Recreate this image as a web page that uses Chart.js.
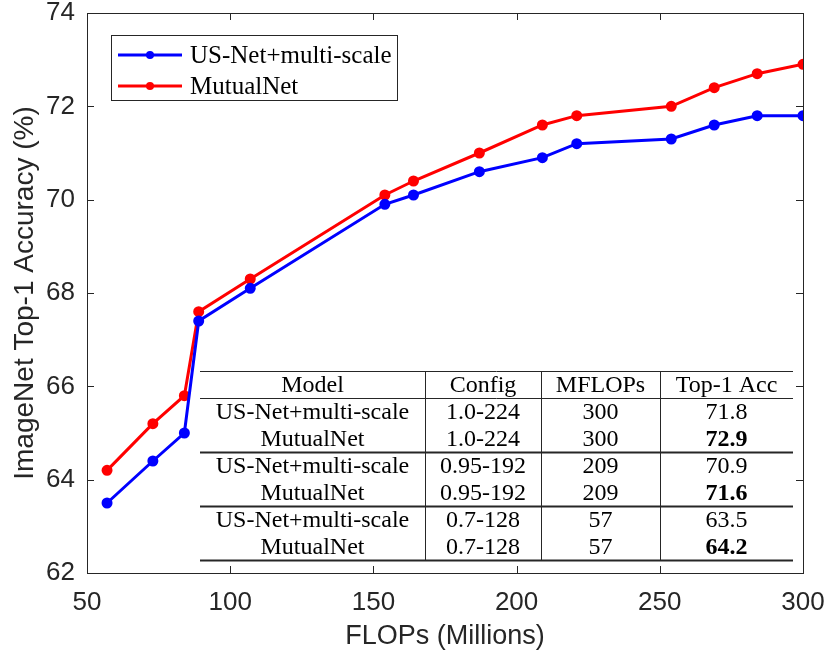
<!DOCTYPE html>
<html>
<head>
<meta charset="utf-8">
<script src="https://cdn.jsdelivr.net/npm/chart.js@4"></script>
<style>
  html, body { margin: 0; padding: 0; background: #fff; }
  canvas { display: block; }
</style>
</head>
<body>
<canvas id="accuracyChart" width="827" height="656"></canvas>
<script>
// FLOPs (millions) measured for each width/resolution config
const flops = [57, 73, 84, 89, 107, 154, 164, 187, 209, 221, 254, 269, 284, 300];
const usNetAcc = [63.5, 64.4, 65.0, 67.4, 68.1, 69.9, 70.1, 70.6, 70.9, 71.2, 71.3, 71.6, 71.8, 71.8];
const mutualNetAcc = [64.2, 65.2, 65.8, 67.6, 68.3, 70.1, 70.4, 71.0, 71.6, 71.8, 72.0, 72.4, 72.7, 72.9];

// inset table
const tableHeader = ['Model', 'Config', 'MFLOPs', 'Top-1 Acc'];
const tableModels = ['US-Net+multi-scale', 'MutualNet', 'US-Net+multi-scale', 'MutualNet', 'US-Net+multi-scale', 'MutualNet'];
const tableConfigs = ['1.0-224', '1.0-224', '0.95-192', '0.95-192', '0.7-128', '0.7-128'];
const tableFlops = ['300', '300', '209', '209', '57', '57'];
const tableAcc = ['71.8', '72.9', '70.9', '71.6', '63.5', '64.2'];
const tableBold = [false, true, false, true, false, true];

const axisColor = '#262626';
const sansFont = "'Liberation Sans', Arial, sans-serif";
const serifFont = "'Liberation Serif', 'Times New Roman', serif";

const makeSeries = (values) => flops.map((f, i) => ({ x: f, y: values[i] }));

// box around the axes with inward ticks on all four sides (MATLAB style)
const frameTicks = {
    id: 'frameTicks',
    afterDraw(chart) {
        const { ctx, chartArea: area, scales } = chart;
        const len = 7;
        ctx.save();
        ctx.strokeStyle = axisColor;
        ctx.lineWidth = 1;
        ctx.strokeRect(area.left + 0.5, area.top + 0.5, area.right - area.left, area.bottom - area.top);
        ctx.beginPath();
        scales.x.ticks.forEach(t => {
            const px = Math.round(scales.x.getPixelForValue(t.value)) + 0.5;
            ctx.moveTo(px, area.bottom); ctx.lineTo(px, area.bottom - len);
            ctx.moveTo(px, area.top); ctx.lineTo(px, area.top + len);
        });
        scales.y.ticks.forEach(t => {
            const py = Math.round(scales.y.getPixelForValue(t.value)) + 0.5;
            ctx.moveTo(area.left, py); ctx.lineTo(area.left + len, py);
            ctx.moveTo(area.right, py); ctx.lineTo(area.right - len, py);
        });
        ctx.stroke();
        ctx.restore();
    }
};

const boxLegend = {
    id: 'boxLegend',
    afterDraw(chart) {
        const { ctx, chartArea: area } = chart;
        const x0 = area.left + 24, y0 = 35, w = 286, h = 65;
        ctx.save();
        ctx.fillStyle = '#fff';
        ctx.fillRect(x0, y0, w, h);
        ctx.strokeStyle = axisColor;
        ctx.lineWidth = 1;
        ctx.strokeRect(x0 + 0.5, y0 + 0.5, w, h);
        chart.data.datasets.forEach((ds, i) => {
            const y = 55 + i * 31;
            ctx.strokeStyle = ds.borderColor;
            ctx.lineWidth = 3;
            ctx.beginPath();
            ctx.moveTo(x0 + 7, y); ctx.lineTo(x0 + 71, y);
            ctx.stroke();
            ctx.fillStyle = ds.borderColor;
            ctx.beginPath();
            ctx.arc(x0 + 39, y, 4, 0, Math.PI * 2);
            ctx.fill();
            ctx.fillStyle = '#000';
            ctx.font = '25px ' + serifFont;
            ctx.textBaseline = 'middle';
            ctx.textAlign = 'left';
            ctx.fillText(ds.label, x0 + 79, y + 1);
        });
        ctx.restore();
    }
};

const insetTable = {
    id: 'insetTable',
    afterDraw(chart) {
        const { ctx, chartArea: area } = chart;
        const left = area.left + 113, right = area.right - 10;
        const top = 371, rowH = 27;
        const colEdges = [left, 425, 541, 660, right];
        const nRows = tableModels.length + 1;
        const bottom = top + nRows * rowH;
        ctx.save();
        ctx.fillStyle = '#fff';
        ctx.fillRect(left, top, right - left, bottom - top);
        ctx.strokeStyle = axisColor;
        const hline = (y, lw) => {
            ctx.lineWidth = lw;
            ctx.beginPath();
            ctx.moveTo(left, y); ctx.lineTo(right, y);
            ctx.stroke();
        };
        hline(top + 0.5, 1);
        hline(top + rowH + 0.5, 1);
        hline(top + 3 * rowH + 0.5, 2);
        hline(top + 5 * rowH + 0.5, 2);
        hline(bottom + 0.5, 2);
        ctx.lineWidth = 1;
        ctx.beginPath();
        for (let c = 1; c < colEdges.length - 1; c++) {
            ctx.moveTo(colEdges[c] + 0.5, top);
            ctx.lineTo(colEdges[c] + 0.5, bottom);
        }
        ctx.stroke();

        ctx.fillStyle = '#000';
        ctx.textAlign = 'center';
        ctx.textBaseline = 'middle';
        const cell = (text, col, row, bold) => {
            ctx.font = (bold ? 'bold ' : '') + '24px ' + serifFont;
            const cx = (colEdges[col] + colEdges[col + 1]) / 2;
            ctx.fillText(text, cx, top + row * rowH + rowH / 2 + 1);
        };
        tableHeader.forEach((h, c) => cell(h, c, 0, false));
        tableModels.forEach((m, r) => {
            cell(m, 0, r + 1, false);
            cell(tableConfigs[r], 1, r + 1, false);
            cell(tableFlops[r], 2, r + 1, false);
            cell(tableAcc[r], 3, r + 1, tableBold[r]);
        });
        ctx.restore();
    }
};

const chart = new Chart(document.getElementById('accuracyChart').getContext('2d'), {
    type: 'line',
    data: {
        datasets: [{
            label: 'US-Net+multi-scale',
            data: makeSeries(usNetAcc),
            borderColor: '#0000ff',
            backgroundColor: '#0000ff',
            borderWidth: 3,
            pointRadius: 4,
            pointHoverRadius: 4,
            tension: 0
        },
        {
            label: 'MutualNet',
            data: makeSeries(mutualNetAcc),
            borderColor: '#ff0000',
            backgroundColor: '#ff0000',
            borderWidth: 3,
            pointRadius: 4,
            pointHoverRadius: 4,
            tension: 0
        }]
    },
    options: {
        responsive: false,
        animation: false,
        devicePixelRatio: 1,
        layout: {
            padding: { top: 13, right: 24, left: 0, bottom: 0 }
        },
        plugins: {
            legend: { display: false },
            tooltip: { enabled: false }
        },
        scales: {
            x: {
                type: 'linear',
                min: 50,
                max: 300,
                afterFit: scale => {
                    scale.height = 83;
                    scale.paddingLeft = 0;
                    scale.paddingRight = 0;
                },
                ticks: {
                    stepSize: 50,
                    color: axisColor,
                    padding: 14,
                    maxRotation: 0,
                    font: { family: sansFont, size: 26 }
                },
                grid: { display: false, drawTicks: false },
                border: { display: false },
                title: {
                    display: true,
                    text: 'FLOPs (Millions)',
                    color: axisColor,
                    font: { family: sansFont, size: 27 },
                    padding: { top: 0, bottom: 3 }
                }
            },
            y: {
                min: 62,
                max: 74,
                afterFit: scale => {
                    scale.width = 87;
                    scale.paddingTop = 0;
                    scale.paddingBottom = 0;
                },
                ticks: {
                    stepSize: 2,
                    color: axisColor,
                    padding: 12,
                    font: { family: sansFont, size: 26 }
                },
                grid: { display: false, drawTicks: false },
                border: { display: false },
                title: {
                    display: true,
                    text: 'ImageNet Top-1 Accuracy (%)',
                    color: axisColor,
                    font: { family: sansFont, size: 28 },
                    padding: { top: 8, bottom: 0 }
                }
            }
        }
    },
    plugins: [frameTicks, insetTable, boxLegend]
});
</script>
</body>
</html>
